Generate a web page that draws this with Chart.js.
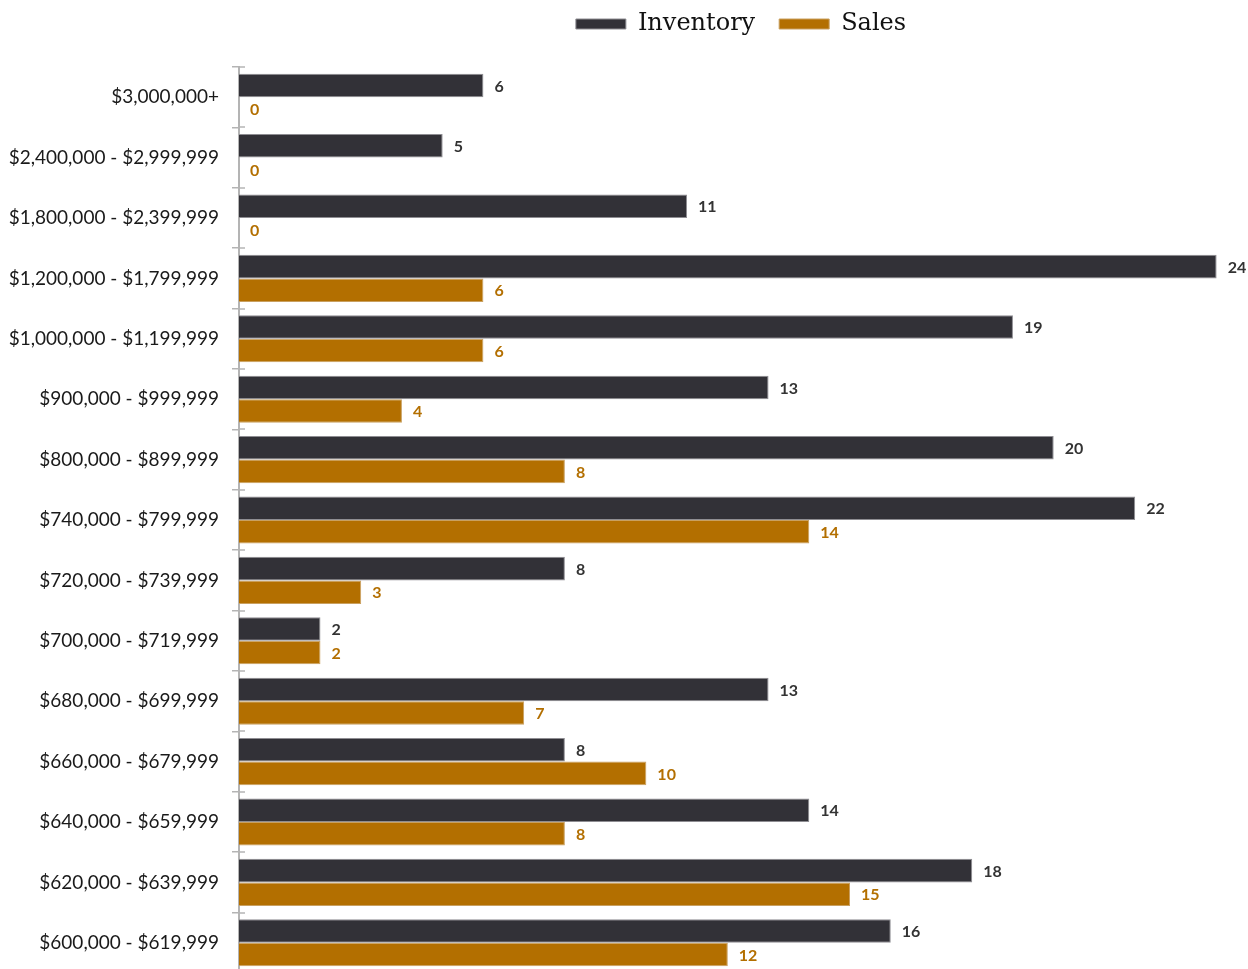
<!DOCTYPE html>
<html>
<head>
<meta charset="utf-8">
<script src="https://cdn.jsdelivr.net/npm/chart.js@4.4.0/dist/chart.umd.min.js"></script>
<style>
  html, body { margin: 0; padding: 0; background: #fff; overflow: hidden; }
  #wrap { width: 1248px; height: 973px; position: relative; }
</style>
</head>
<body>
<div id="wrap"><canvas id="priceChart"></canvas></div>
<script>
// price bands, top to bottom
const priceBands = [
  '$3,000,000+',
  '$2,400,000 - $2,999,999',
  '$1,800,000 - $2,399,999',
  '$1,200,000 - $1,799,999',
  '$1,000,000 - $1,199,999',
  '$900,000 - $999,999',
  '$800,000 - $899,999',
  '$740,000 - $799,999',
  '$720,000 - $739,999',
  '$700,000 - $719,999',
  '$680,000 - $699,999',
  '$660,000 - $679,999',
  '$640,000 - $659,999',
  '$620,000 - $639,999',
  '$600,000 - $619,999'
];
const inventory = [6, 5, 11, 24, 19, 13, 20, 22, 8, 2, 13, 8, 14, 18, 16];
const sales = [0, 0, 0, 6, 6, 4, 8, 14, 3, 2, 7, 10, 8, 15, 12];

const darkColor = '#323137';
const goldColor = '#b36f00';

// value labels at the end of each bar
const barLabels = {
  id: 'barLabels',
  afterDatasetsDraw(chart) {
    const ctx = chart.ctx;
    ctx.save();
    ctx.font = 'bold 16px Lato';
    ctx.textBaseline = 'middle';
    ctx.textAlign = 'left';
    chart.data.datasets.forEach((ds, i) => {
      const meta = chart.getDatasetMeta(i);
      ctx.fillStyle = ds.labelColor;
      meta.data.forEach((bar, j) => {
        ctx.fillText(ds.data[j], bar.x + 11, bar.y + 1);
      });
    });
    ctx.restore();
  }
};

// little cross ticks on the inner side of the axis
const innerTicks = {
  id: 'innerTicks',
  afterDraw(chart) {
    const y = chart.scales.y;
    const ctx = chart.ctx;
    const left = chart.chartArea.left;
    const step = y.getPixelForValue(1) - y.getPixelForValue(0);
    ctx.save();
    ctx.strokeStyle = '#b4b4b4';
    ctx.lineWidth = 1.5;
    for (let i = 0; i < priceBands.length; i++) {
      const py = Math.round(y.getPixelForValue(i) - step / 2);
      ctx.beginPath();
      ctx.moveTo(left, py);
      ctx.lineTo(left + 6, py);
      ctx.stroke();
    }
    ctx.restore();
  }
};

// pull the legend up to the top edge
const legendNudge = {
  id: 'legendNudge',
  afterLayout(chart) {
    const lg = chart.legend;
    lg.top -= 21;
    lg.bottom -= 21;
    lg.left += 3;
    lg.right += 3;
  }
};

const chart = new Chart(document.getElementById('priceChart'), {
  type: 'bar',
  data: {
    labels: priceBands,
    datasets: [
      {
        label: 'Inventory',
        data: inventory,
        backgroundColor: darkColor,
        borderColor: '#8e8d92',
        borderWidth: 1,
        borderSkipped: 'left',
        labelColor: '#333333',
        categoryPercentage: 0.78,
        barPercentage: 1.0
      },
      {
        label: 'Sales',
        data: sales,
        backgroundColor: goldColor,
        borderColor: '#c9a060',
        borderWidth: 1,
        borderSkipped: 'left',
        labelColor: goldColor,
        categoryPercentage: 0.78,
        barPercentage: 1.0
      }
    ]
  },
  options: {
    indexAxis: 'y',
    responsive: true,
    maintainAspectRatio: false,
    animation: false,
    layout: { padding: { left: 2, right: 11, top: 0, bottom: 0 } },
    plugins: {
      legend: {
        display: true,
        position: 'top',
        fullSize: false,
        labels: {
          boxWidth: 50,
          boxHeight: 10,
          padding: 24,
          color: '#111',
          font: { family: 'DejaVu Serif', size: 24, lineHeight: 1 }
        }
      },
      tooltip: { enabled: false }
    },
    scales: {
      x: {
        display: false,
        min: 0,
        max: 24.5
      },
      y: {
        afterFit(scale) {
          scale.width = 237;
          scale.paddingTop = 67;
          scale.paddingBottom = 0;
        },
        border: { display: true, color: '#b4b4b4', width: 2 },
        grid: {
          offset: true,
          drawOnChartArea: false,
          drawTicks: true,
          tickLength: 7,
          color: '#b4b4b4',
          lineWidth: 1.5
        },
        ticks: {
          color: '#1a1a1a',
          padding: 13,
          font: { family: 'Lato', size: 19 }
        }
      }
    }
  },
  plugins: [barLabels, innerTicks, legendNudge]
});
</script>
</body>
</html>
